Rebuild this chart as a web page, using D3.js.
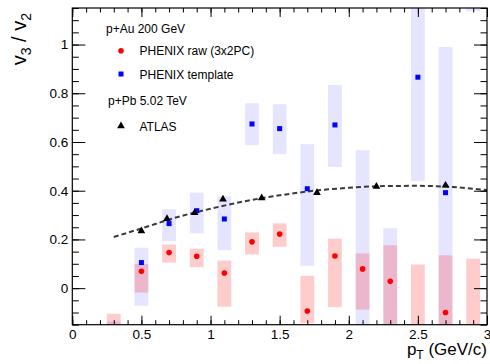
<!DOCTYPE html>
<html>
<head>
<meta charset="utf-8">
<script src="https://cdn.jsdelivr.net/npm/d3@7"></script>
<style>
  body { margin: 0; background: #fff; }
  text { font-family: "Liberation Sans", Arial, sans-serif; fill: #000; }
</style>
</head>
<body>
<svg id="chart" width="490" height="364"></svg>
<script>
// PHENIX p+Au 200 GeV, bin centres
var pt = [0.3, 0.5, 0.7, 0.9, 1.1, 1.3, 1.5, 1.7, 1.9, 2.1, 2.3, 2.5, 2.7, 2.9];

// PHENIX raw (3x2PC): value and systematic box edges (null = off the plot)
var rawVal = [null, 0.069, 0.146, 0.131, 0.062, 0.190, 0.222, -0.094, 0.132, 0.079, 0.028, null, -0.100, null];
var rawLo  = [-0.30, -0.018, 0.105, 0.086, -0.076, 0.138, 0.170, -0.144, -0.078, -0.088, -0.30, -0.30, -0.33, -0.30];
var rawHi  = [-0.105, 0.099, 0.179, 0.162, 0.113, 0.229, 0.266, 0.051, 0.203, 0.143, 0.176, 0.097, 0.135, 0.121];

// PHENIX template
var tmplVal = [null, 0.105, 0.265, 0.318, 0.284, 0.674, 0.655, 0.408, 0.670, null, null, 0.866, 0.392, null];
var tmplLo  = [-0.40, -0.072, 0.193, 0.225, 0.156, 0.587, 0.550, 0.092, 0.498, -0.30, -0.30, 0.440, -0.30, 1.137];
var tmplHi  = [-0.137, 0.166, 0.324, 0.392, 0.377, 0.759, 0.755, 0.591, 0.834, 0.566, 0.246, 1.30, 0.990, 1.40];

// ATLAS p+Pb 5.02 TeV
var atlasPt  = [0.5, 0.685, 0.885, 1.09, 1.37, 1.77, 2.2, 2.7];
var atlasVal = [0.235, 0.285, 0.309, 0.365, 0.370, 0.392, 0.417, 0.422];

// dashed curve
var curvePt  = [0.3, 0.5, 0.75, 1.0, 1.25, 1.5, 1.75, 2.0, 2.25, 2.5, 2.75, 3.0];
var curveVal = [0.210, 0.245, 0.290, 0.326, 0.357, 0.381, 0.400, 0.412, 0.419, 0.420, 0.415, 0.403];

var xMajor = [0, 0.5, 1, 1.5, 2, 2.5, 3];
var yMajor = [0, 0.2, 0.4, 0.6, 0.8, 1];

var padL = 72.3, padR = 487, padT = 8, padB = 324.7;
var boxHalf = 0.05;

var svg = d3.select("#chart");

var x = d3.scaleLinear().domain([0, 3]).range([padL, padR]);
var y = d3.scaleLinear().domain([-0.15, 1.15]).range([padB, padT]);

svg.append("clipPath").attr("id", "plot")
  .append("rect")
  .attr("x", padL).attr("y", padT)
  .attr("width", padR - padL).attr("height", padB - padT);

var plot = svg.append("g").attr("clip-path", "url(#plot)");

// systematic boxes
plot.selectAll("rect.tmpl").data(pt).enter().append("rect")
  .attr("class", "tmpl")
  .attr("x", d => x(d - boxHalf))
  .attr("width", d => x(d + boxHalf) - x(d - boxHalf))
  .attr("y", (d, i) => y(tmplHi[i]))
  .attr("height", (d, i) => y(tmplLo[i]) - y(tmplHi[i]))
  .style("fill", "rgba(0,0,255,0.1)");

plot.selectAll("rect.raw").data(pt).enter().append("rect")
  .attr("class", "raw")
  .attr("x", d => x(d - boxHalf))
  .attr("width", d => x(d + boxHalf) - x(d - boxHalf))
  .attr("y", (d, i) => y(rawHi[i]))
  .attr("height", (d, i) => y(rawLo[i]) - y(rawHi[i]))
  .style("fill", "rgba(255,0,0,0.2)");

// dashed fit curve
var line = d3.line()
  .x(d => x(d[0]))
  .y(d => y(d[1]))
  .curve(d3.curveMonotoneX);

plot.append("path")
  .datum(curvePt.map((d, i) => [d, curveVal[i]]))
  .attr("d", line)
  .attr("fill", "none")
  .attr("stroke", "#3a3a3a")
  .attr("stroke-width", 2)
  .attr("stroke-dasharray", "5,3");

// markers
var sq = 5;
plot.selectAll("rect.tmplPt").data(pt.filter((d, i) => tmplVal[i] !== null)).enter().append("rect")
  .attr("class", "tmplPt")
  .attr("x", d => x(d) - sq / 2)
  .attr("y", d => y(tmplVal[pt.indexOf(d)]) - sq / 2)
  .attr("width", sq).attr("height", sq)
  .style("fill", "#0000ff");

plot.selectAll("circle.rawPt").data(pt.filter((d, i) => rawVal[i] !== null)).enter().append("circle")
  .attr("class", "rawPt")
  .attr("cx", d => x(d))
  .attr("cy", d => y(rawVal[pt.indexOf(d)]))
  .attr("r", 2.8)
  .style("fill", "#ff0000");

var tri = d3.symbol().type(d3.symbolTriangle).size(26);
plot.selectAll("path.atlas").data(atlasPt).enter().append("path")
  .attr("class", "atlas")
  .attr("d", tri)
  .attr("transform", (d, i) => "translate(" + x(d) + "," + y(atlasVal[i]) + ")")
  .style("fill", "#000");

// axes: ticks point inward, like ROOT
var xMinor = d3.range(0, 31).map(i => i / 10);
var yMinor = d3.range(-3, 24).map(i => i * 0.05);

function drawAxis(axis, tx, ty, labels) {
  var g = svg.append("g").attr("transform", "translate(" + tx + "," + ty + ")").call(axis);
  g.select(".domain").remove();
  g.selectAll("line").attr("stroke", "#000");
  if (labels) g.selectAll("text").style("font-size", "13.5px").style("font-family", "Liberation Sans, Arial, sans-serif").attr("fill", "#000");
  else g.selectAll("text").remove();
}

drawAxis(d3.axisBottom(x).tickValues(xMinor).tickSize(-4.5).tickFormat(""), 0, padB, false);
drawAxis(d3.axisBottom(x).tickValues(xMajor).tickSize(-9).tickPadding(5).tickFormat(d => String(d)), 0, padB, true);
drawAxis(d3.axisTop(x).tickValues(xMinor).tickSize(-4.5).tickFormat(""), 0, padT, false);
drawAxis(d3.axisTop(x).tickValues(xMajor).tickSize(-9).tickFormat(""), 0, padT, false);

drawAxis(d3.axisLeft(y).tickValues(yMinor).tickSize(-6.5).tickFormat(""), padL, 0, false);
drawAxis(d3.axisLeft(y).tickValues(yMajor).tickSize(-13).tickPadding(4).tickFormat(d => String(d)), padL, 0, true);
drawAxis(d3.axisRight(y).tickValues(yMinor).tickSize(-6.5).tickFormat(""), padR, 0, false);
drawAxis(d3.axisRight(y).tickValues(yMajor).tickSize(-13).tickFormat(""), padR, 0, false);

svg.append("rect")
  .attr("x", padL).attr("y", padT)
  .attr("width", padR - padL).attr("height", padB - padT)
  .attr("fill", "none").attr("stroke", "#000").attr("stroke-width", 1.2);

// axis titles
var yt = svg.append("text")
  .attr("transform", "translate(26,13) rotate(-90)")
  .attr("text-anchor", "end")
  .style("font-size", "20px");
yt.append("tspan").text("v");
yt.append("tspan").attr("dy", 5).style("font-size", "14px").text("3");
yt.append("tspan").attr("dy", -5).text(" / v");
yt.append("tspan").attr("dy", 5).style("font-size", "14px").text("2");

var xt = svg.append("text")
  .attr("x", 487).attr("y", 355)
  .attr("text-anchor", "end")
  .style("font-size", "17px");
xt.append("tspan").text("p");
xt.append("tspan").attr("dy", 4).style("font-size", "12px").text("T");
xt.append("tspan").attr("dy", -4).text(" (GeV/c)");

// legend
var leg = svg.append("g").style("font-size", "12px");
leg.append("text").attr("x", 106).attr("y", 32.6).text("p+Au 200 GeV");
leg.append("circle").attr("cx", 121).attr("cy", 50.7).attr("r", 2.8).style("fill", "#ff0000");
leg.append("text").attr("x", 139.5).attr("y", 55.3).text("PHENIX raw (3x2PC)");
leg.append("rect").attr("x", 121 - sq / 2).attr("y", 74 - sq / 2).attr("width", sq).attr("height", sq).style("fill", "#0000ff");
leg.append("text").attr("x", 139.5).attr("y", 78.6).text("PHENIX template");
leg.append("text").attr("x", 108).attr("y", 105.3).text("p+Pb 5.02 TeV");
leg.append("path").attr("d", tri).attr("transform", "translate(121,126)").style("fill", "#000");
leg.append("text").attr("x", 139.5).attr("y", 131).text("ATLAS");
</script>
</body>
</html>
